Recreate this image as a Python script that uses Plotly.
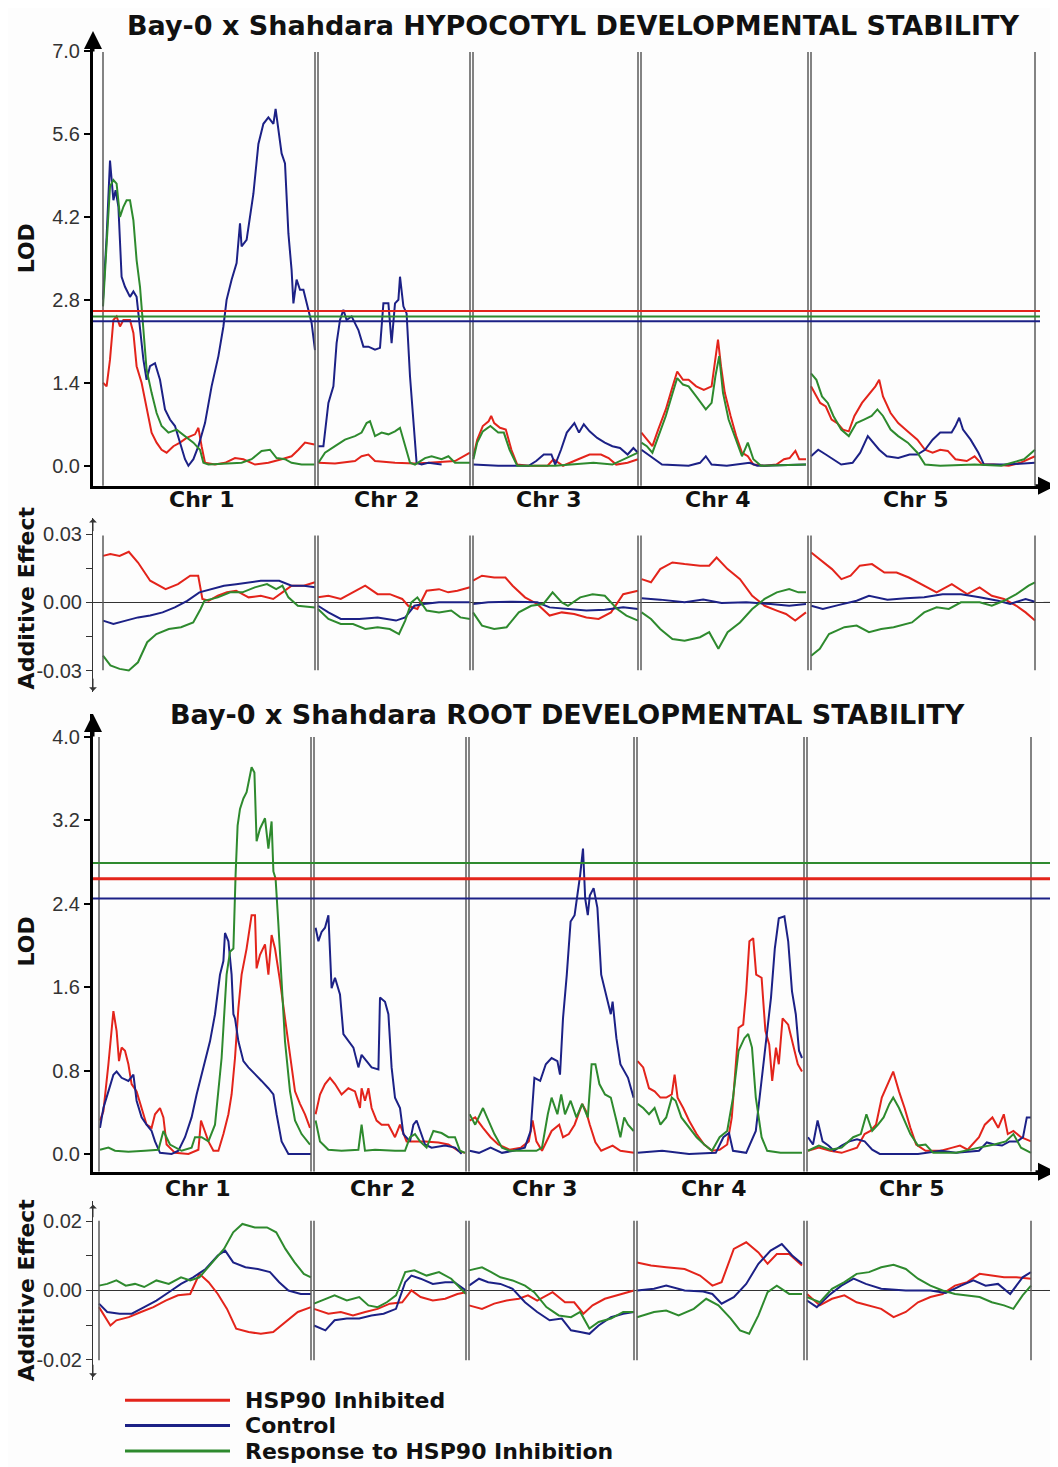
import plotly.graph_objects as go

# ---------------------------------------------------------------- data
CHR_NAMES = ["Chr 1", "Chr 2", "Chr 3", "Chr 4", "Chr 5"]
CHR_LEN_CM = [106.0, 76.0, 82.5, 83.5, 112.0]
CHR_GAP_CM = 1.5
SERIES_NAMES = ["HSP90 Inhibited", "Control", "Response to HSP90 Inhibition"]
SERIES_COLORS = ["#e3241b", "#1c2186", "#2e8a2e"]

HYP_TITLE = "Bay-0 x Shahdara HYPOCOTYL DEVELOPMENTAL STABILITY"
ROOT_TITLE = "Bay-0 x Shahdara ROOT DEVELOPMENTAL STABILITY"

HYP_LOD_TICKS = [0.0, 1.4, 2.8, 4.2, 5.6, 7.0]
ROOT_LOD_TICKS = [0.0, 0.8, 1.6, 2.4, 3.2, 4.0]
HYP_ADD_TICKS = [-0.03, -0.015, 0.0, 0.015, 0.03]
HYP_ADD_TICKTEXT = ["-0.03", "", "0.00", "", "0.03"]
ROOT_ADD_TICKS = [-0.02, -0.01, 0.0, 0.01, 0.02]
ROOT_ADD_TICKTEXT = ["-0.02", "", "0.00", "", "0.02"]

# significance thresholds (inhibited, control, response)
HYP_THRESH = [2.61, 2.44, 2.52]
ROOT_THRESH = [2.64, 2.45, 2.79]

# curves: one list per chromosome of [genome position (cM, cumulative), value]
HYP_LOD_INHIB = [
    [[0,1.40],[1.8,1.34],[3.5,1.79],[5.2,2.46],[6.8,2.52],[8.5,2.35],[10.2,2.46],[13.5,2.46],[15.2,2.24],[16.8,1.68],[19.3,1.40],[21.8,1.00],[24.3,0.56],[26.8,0.39],[29.3,0.27],[31.8,0.22],[35.2,0.33],[38.5,0.39],[41.8,0.47],[46,0.53],[47.7,0.64],[49.3,0.33],[51,0.05],[56,0.02],[61,0.05],[66,0.13],[70.2,0.11],[76,0.02],[82.7,0.05],[89.3,0.11],[94.3,0.16],[97.7,0.27],[101,0.39],[105.7,0.36]],
    [[107.7,0.05],[116,0.04],[126,0.08],[129.3,0.16],[132.7,0.19],[136,0.08],[146,0.05],[156,0.04],[162.7,0.05],[176,0.08],[183.5,0.22]],
    [[185.2,0.16],[187.1,0.44],[189.9,0.67],[192.8,0.75],[194.1,0.84],[195.6,0.72],[198.5,0.64],[201.4,0.61],[204.2,0.27],[207.1,0.02],[212.8,0.0],[222.3,0.0],[225.2,0.11],[230.0,0.0],[237.6,0.11],[243.3,0.19],[249.0,0.19],[252.8,0.13],[256.6,0.02],[262.3,0.05],[267.5,0.11]],
    [[269.2,0.56],[271.9,0.44],[274.7,0.33],[277.6,0.61],[281.4,0.95],[284.3,1.28],[287.1,1.59],[290.0,1.45],[292.8,1.45],[296.6,1.34],[300.4,1.28],[304.3,1.34],[306.2,1.85],[307.5,2.13],[309.0,1.68],[310.9,1.23],[313.8,0.84],[316.6,0.5],[319.5,0.22],[322.4,0.16],[325.2,0.02],[330.9,0.0],[336.7,0.02],[340.5,0.11],[343.3,0.13],[346.2,0.25],[348.1,0.11],[351.5,0.11]],
    [[354.0,1.34],[355.7,1.23],[358.6,1.06],[361.4,1.0],[364.3,0.78],[367.1,0.72],[370.0,0.61],[372.9,0.58],[375.7,0.84],[379.5,1.06],[383.3,1.23],[386.2,1.34],[388.1,1.45],[390.0,1.17],[393.8,0.89],[397.6,0.72],[402.4,0.58],[407.2,0.44],[411.0,0.27],[414.8,0.22],[418.6,0.27],[422.4,0.25],[426.2,0.11],[431.9,0.08],[435.8,0.16],[439.6,0.02],[445.3,0.02],[452.9,0.0],[458.6,0.05],[462.4,0.11],[466.0,0.16]],
]
HYP_LOD_CONTROL = [
    [[0,2.8],[1.8,3.86],[3.5,5.15],[5.2,4.48],[6.3,4.65],[7.7,4.37],[9.3,3.19],[11,3.02],[13.5,2.85],[15.2,2.94],[16.8,2.85],[18.5,2.35],[20.2,1.79],[21.8,1.45],[23.5,1.68],[26,1.73],[28.5,1.45],[31,0.95],[33.5,0.78],[36,0.67],[38.5,0.39],[41,0.11],[42.7,0.0],[45.2,0.11],[47.7,0.33],[51,0.72],[54.3,1.34],[57.7,1.85],[60.2,2.35],[61.8,2.8],[64.3,3.14],[66.8,3.42],[68.5,4.09],[69.3,3.7],[71.8,3.81],[73.5,4.2],[75.2,4.59],[77.7,5.43],[80.2,5.77],[82.7,5.88],[85.2,5.77],[86.3,6.02],[87.7,5.66],[89.3,5.27],[91,5.1],[92.7,3.92],[94.3,3.3],[95.2,2.74],[96.8,3.14],[98.5,2.97],[100.2,2.97],[102.7,2.63],[104.3,2.41],[106,1.95]],
    [[107.5,0.33],[110.2,0.33],[112.7,1.06],[115.2,1.34],[116.8,2.07],[118.5,2.46],[120.2,2.63],[121.8,2.46],[124.3,2.52],[127.7,2.29],[130.2,2.01],[132.7,2.01],[136,1.96],[138.5,1.99],[140.2,2.74],[142.7,2.74],[144.3,2.07],[146,2.74],[147.7,2.8],[148.5,3.19],[150.2,2.69],[151.8,2.57],[153.5,1.51],[155.2,0.67],[156.8,0.05],[159.3,0.02],[162.7,0.05],[169.3,0.02]],
    [[185.2,0.02],[197.6,0.0],[212.8,0.0],[216.6,0.08],[220.4,0.19],[224.2,0.19],[226.1,0.02],[229.0,0.27],[231.9,0.56],[235.7,0.72],[238.0,0.56],[240.4,0.70],[243.3,0.58],[247.1,0.47],[250.9,0.39],[254.7,0.33],[258.5,0.30],[262.3,0.19],[265.2,0.30],[267.5,0.22]],
    [[269.2,0.27],[273.8,0.16],[279.5,0.02],[292.8,0.0],[298.5,0.05],[301.4,0.16],[304.3,0.02],[311.9,0.0],[323.3,0.05],[327.1,0.0],[351.5,0.02]],
    [[354.0,0.16],[357.6,0.27],[361.4,0.19],[365.2,0.11],[369.1,0.02],[374.8,0.05],[378.6,0.22],[382.4,0.50],[385.2,0.39],[388.1,0.27],[391.9,0.16],[397.6,0.13],[403.3,0.19],[407.2,0.19],[411.0,0.27],[414.8,0.44],[418.6,0.56],[424.3,0.56],[426.2,0.67],[428.1,0.81],[430.0,0.61],[433.8,0.44],[437.7,0.22],[440.5,0.02],[451.0,0.02],[466.0,0.05]],
]
HYP_LOD_RESPONSE = [
    [[0,2.69],[1.8,3.75],[3.5,4.71],[5.2,4.82],[6.8,4.76],[8.5,4.20],[10.2,4.37],[11.8,4.48],[13.5,4.48],[15.2,4.14],[16.8,3.47],[18.5,3.02],[20.2,2.24],[21.8,1.62],[24.3,1.23],[26.8,0.89],[29.3,0.67],[32.7,0.56],[36.8,0.61],[41,0.50],[45.2,0.39],[48.5,0.27],[50.2,0.05],[52.7,0.02],[62.7,0.04],[69.3,0.05],[74.3,0.11],[79.3,0.25],[83.5,0.27],[86.8,0.13],[91,0.11],[94.3,0.05],[99.3,0.02],[105.7,0.02]],
    [[107.7,0.05],[111,0.22],[116,0.33],[121,0.44],[126,0.50],[129.3,0.56],[131.8,0.72],[133.5,0.75],[136,0.50],[139.3,0.56],[142.7,0.53],[146,0.58],[148.5,0.64],[151,0.33],[153.5,0.05],[156,0.02],[161,0.13],[164.3,0.16],[169.3,0.11],[172.7,0.16],[176,0.05],[183.5,0.05]],
    [[185.2,0.11],[187.1,0.39],[189.9,0.58],[193.7,0.67],[197.6,0.56],[200.4,0.56],[203.3,0.27],[207.1,0.0],[226.1,0.0],[235.7,0.02],[245.2,0.05],[254.7,0.02],[260.4,0.11],[264.2,0.16],[267.5,0.22]],
    [[269.2,0.39],[271.9,0.33],[274.7,0.22],[277.6,0.5],[281.4,0.84],[284.3,1.17],[287.1,1.48],[290.0,1.37],[292.8,1.34],[296.6,1.17],[301.4,0.95],[304.3,1.06],[306.2,1.51],[308.1,1.85],[310.0,1.23],[312.8,0.78],[316.6,0.44],[319.5,0.16],[322.4,0.39],[325.2,0.11],[329.0,0.0],[351.5,0.02]],
    [[354.0,1.56],[356.7,1.45],[359.5,1.17],[362.4,1.06],[365.2,0.84],[369.1,0.61],[372.9,0.5],[376.7,0.72],[380.5,0.78],[384.3,0.84],[387.2,0.95],[390.0,0.84],[393.8,0.61],[397.6,0.5],[402.4,0.39],[407.2,0.22],[411.0,0.02],[418.6,0.0],[435.8,0.02],[449.1,0.0],[460.5,0.11],[466.0,0.27]],
]

# additive effects, in thousandths
HYP_ADD_INHIB_E3 = [
    [[0,20.4],[3.7,21.2],[8.3,20.4],[12.9,22.2],[17.5,17.5],[23.6,9.5],[31.3,5.8],[37.5,8.0],[43.6,11.7],[47.6,11.7],[49.7,1.5],[52.8,0.7],[57.4,2.9],[62.0,4.4],[66.6,5.1],[72.8,2.2],[78.9,2.9],[85.1,1.5],[89.7,4.4],[94.3,7.3],[100.4,7.3],[106,8.8]],
    [[107.5,2.2],[112.7,2.9],[118.9,1.5],[125.0,4.4],[131.1,7.3],[137.3,3.6],[143.4,3.6],[149.6,1.5],[152.6,-1.5],[157.2,-2.9],[161.8,5.1],[168.0,5.8],[172.6,4.4],[177.2,5.1],[183.5,6.6]],
    [[185,9.5],[189.5,11.7],[195.6,10.9],[201.2,10.9],[204.8,7.3],[211.0,2.2],[217.1,-0.7],[223.3,-5.8],[229.4,-4.4],[235.6,-5.1],[241.7,-6.6],[247.8,-7.3],[254.0,-4.4],[260.1,3.6],[267.5,5.1]],
    [[269.3,10.2],[274.0,8.8],[278.6,14.6],[284.7,17.5],[290.8,16.8],[298.5,16.1],[303.1,16.1],[306.8,19.7],[312.3,14.6],[318.5,10.2],[324.6,2.9],[330.8,-1.5],[336.9,-3.6],[341.5,-5.1],[346.1,-8.0],[351.5,-4.4]],
    [[354.1,21.9],[358.4,19.0],[364.5,14.6],[369.2,10.2],[373.8,11.7],[378.4,16.1],[384.5,16.8],[390.7,13.1],[396.8,13.1],[402.9,10.9],[410.6,7.3],[416.8,4.4],[424.4,8.0],[432.1,3.6],[438.3,6.6],[444.4,2.9],[450.5,1.5],[456.7,-1.5],[461.3,-4.4],[466,-8.0]],
]
HYP_ADD_CONTROL_E3 = [
    [[0,-8.0],[5.2,-9.5],[11.4,-8.0],[17.5,-6.6],[23.6,-5.8],[29.8,-4.4],[35.9,-2.2],[42.1,0.7],[48.2,4.4],[54.4,5.8],[60.5,7.3],[66.6,8.0],[72.8,8.8],[78.9,9.5],[88.1,9.5],[94.3,7.3],[100.4,7.3],[106,6.6]],
    [[107.5,-1.5],[112.7,-4.4],[118.9,-7.3],[128.1,-7.3],[137.3,-6.6],[146.5,-8.0],[151.1,-6.6],[155.7,-1.5],[160.3,-0.7],[168.0,0.0],[177.2,0.0],[183.5,0.0]],
    [[185,-0.7],[192.6,0.0],[204.8,0.3],[217.1,0.0],[223.3,-2.2],[232.5,-2.9],[241.7,-3.6],[250.9,-3.2],[260.1,-2.2],[267.5,-2.9]],
    [[269.3,1.8],[278.6,1.2],[290.8,0.0],[300.1,1.2],[309.3,-0.3],[321.6,0.0],[333.8,-0.7],[343.1,-1.5],[351.5,-0.7]],
    [[354.1,-1.5],[359.9,-2.9],[367.6,-1.2],[376.8,0.7],[383.0,2.9],[392.2,1.2],[401.4,1.8],[410.6,2.2],[419.8,3.6],[429.0,3.6],[438.3,2.2],[447.5,0.7],[453.6,-0.7],[461.3,1.5],[466,0.3]],
]
HYP_ADD_RESPONSE_E3 = [
    [[0,-23.4],[3.7,-27.7],[8.3,-29.2],[12.9,-29.9],[17.5,-26.3],[22.1,-17.5],[26.7,-13.9],[32.9,-11.7],[39.0,-10.9],[45.1,-8.8],[48.8,-2.9],[50.7,0.7],[57.4,2.2],[63.6,4.4],[69.7,4.4],[75.9,6.6],[82.0,8.0],[86.6,5.8],[89.7,7.3],[92.7,2.2],[97.4,-1.5],[106,-2.2]],
    [[107.5,-2.9],[112.7,-7.3],[118.9,-9.5],[125.0,-9.5],[131.1,-11.7],[137.3,-10.9],[143.4,-11.7],[148.0,-13.9],[151.1,-8.0],[154.2,0.0],[157.2,2.2],[161.8,-3.6],[168.0,-4.4],[174.1,-3.6],[178.7,-6.6],[183.5,-7.3]],
    [[185,-4.4],[189.5,-10.2],[195.6,-11.7],[201.8,-10.9],[207.9,-4.4],[214.1,-1.5],[220.2,-0.7],[224.8,4.4],[229.4,0.0],[232.5,-1.5],[238.6,2.2],[244.8,3.6],[250.9,2.9],[257.1,-2.9],[261.7,-5.8],[267.5,-8.0]],
    [[269.3,-4.4],[274.0,-7.3],[278.6,-11.7],[284.7,-16.1],[290.8,-16.8],[298.5,-15.3],[303.1,-13.1],[307.7,-20.4],[312.3,-13.1],[318.5,-8.8],[324.6,-2.9],[330.8,1.5],[336.9,4.4],[343.1,5.8],[347.7,4.4],[351.5,4.4]],
    [[354.1,-23.4],[358.4,-20.4],[363.0,-13.9],[370.7,-10.9],[376.8,-10.2],[383.0,-13.1],[389.1,-11.7],[395.3,-10.9],[404.5,-8.8],[410.6,-4.4],[416.8,-2.2],[422.9,-2.9],[429.0,0.0],[438.3,0.0],[444.4,-1.5],[450.5,0.7],[456.7,3.6],[462.8,7.3],[466,8.8]],
]

ROOT_LOD_INHIB = [
    [[0.5,0.32],[2.2,0.41],[4.7,0.86],[6.3,1.18],[7.2,1.37],[8.8,1.18],[10,0.89],[11.3,1.02],[13,0.99],[14.7,0.86],[16.3,0.67],[18.8,0.6],[21.3,0.44],[23.8,0.28],[26.3,0.25],[28,0.38],[30.5,0.44],[32.2,0.35],[33.8,0.09],[38,0.01],[44.7,0.0],[49.7,0.04],[51,0.32],[53,0.22],[54.7,0.12],[57.2,0.03],[59.7,0.03],[62.2,0.19],[64.7,0.38],[66.3,0.57],[68,0.92],[69.7,1.4],[71.3,1.72],[73.8,1.97],[76.3,2.29],[78,2.29],[78.8,1.78],[80.5,1.91],[83,2.01],[84.7,1.72],[86.3,2.1],[88,1.97],[90.5,1.66],[93,1.3],[95.5,0.95],[98,0.6],[100.5,0.48],[103,0.38],[105.5,0.25]],
    [[108.3,0.38],[110.5,0.57],[113,0.67],[115.5,0.73],[118,0.67],[121.3,0.57],[124.7,0.63],[128,0.6],[130.5,0.44],[131.3,0.63],[133,0.51],[134.7,0.63],[136.3,0.44],[138.8,0.32],[141.3,0.28],[144.7,0.28],[148,0.16],[150.5,0.28],[153.8,0.12],[158,0.12],[163,0.12],[169.7,0.11],[174.7,0.09],[179.7,0.03],[183,0.01]],
    [[185.3,0.32],[188.1,0.35],[192,0.25],[195.8,0.16],[199.6,0.09],[205.3,0.04],[211,0.06],[214.9,0.12],[216.8,0.32],[218.7,0.12],[221.5,0.03],[226.3,0.22],[230.1,0.28],[232,0.16],[234.9,0.19],[237.8,0.28],[241.6,0.48],[243.5,0.41],[245.4,0.28],[248.2,0.11],[251.1,0.03],[256.8,0.08],[260.7,0.03],[267.5,0.01]],
    [[269.3,0.89],[272.1,0.83],[275,0.63],[277.8,0.6],[280.7,0.54],[283.6,0.54],[286.4,0.57],[287.8,0.76],[289.3,0.54],[292.1,0.44],[295,0.32],[298.8,0.19],[302.6,0.09],[306.5,0.03],[310.3,0.04],[314.1,0.09],[316.4,0.35],[318.3,0.86],[319.8,1.21],[322.1,1.24],[323.6,1.56],[325.2,2.04],[327.1,2.07],[328.6,1.72],[331.3,1.69],[333.2,1.18],[335.1,1.05],[336.6,0.7],[338.5,1.02],[339.9,0.86],[341.8,1.3],[344.6,1.24],[347.5,1.02],[349.4,0.86],[351.5,0.79]],
    [[354.5,0.03],[359.9,0.06],[365.6,0.03],[371.3,0.01],[379,0.06],[382.8,0.19],[385.7,0.22],[388.5,0.28],[391.4,0.54],[394.2,0.67],[397.1,0.79],[400,0.6],[402.8,0.44],[405.7,0.25],[408.6,0.09],[413.3,0.03],[421,0.03],[426.7,0.06],[430.5,0.08],[434.3,0.04],[440,0.16],[442.9,0.28],[446.7,0.35],[449.6,0.25],[452.4,0.38],[454.4,0.19],[457.2,0.22],[461,0.16],[466,0.12]],
]
ROOT_LOD_CONTROL = [
    [[0.5,0.25],[2.2,0.44],[4.7,0.6],[7.2,0.76],[8.8,0.79],[11.3,0.73],[14.7,0.7],[17.2,0.76],[18.8,0.51],[21.3,0.35],[23.8,0.28],[26.3,0.22],[28,0.12],[30.5,0.01],[36.3,0.0],[39.7,0.03],[43,0.16],[46.3,0.35],[48.8,0.57],[50.5,0.7],[53,0.89],[55.5,1.08],[58,1.34],[60.5,1.72],[62.2,1.85],[63,2.12],[64.7,2.04],[66.3,1.72],[67.2,1.34],[68,1.3],[69.7,1.08],[72.2,0.89],[74.7,0.83],[78,0.76],[81.3,0.7],[84.7,0.63],[87.2,0.57],[88.8,0.38],[91.3,0.12],[94.7,0.0],[106,0.0]],
    [[108.3,2.17],[109.7,2.04],[111.3,2.13],[113,2.17],[114.7,2.29],[116.3,1.59],[118,1.69],[120.5,1.53],[122.2,1.15],[124.7,1.08],[127.2,1.02],[129.7,0.83],[131.3,0.95],[133.8,0.89],[136.3,0.83],[139.7,0.81],[140.5,1.5],[143,1.46],[144.7,1.34],[146.3,0.83],[148,0.54],[150.5,0.44],[152.2,0.19],[155.5,0.12],[157.2,0.28],[158.8,0.32],[160.5,0.22],[163,0.09],[166.3,0.06],[173,0.08],[178,0.06],[181.3,0.0]],
    [[185.3,0.03],[190,0.01],[195.8,0.06],[201.5,0.01],[207.2,0.03],[212.9,0.06],[215.8,0.22],[217.7,0.73],[220.6,0.7],[223.4,0.86],[226.3,0.92],[229.2,0.89],[230.5,0.76],[232,1.3],[233.9,1.72],[235.8,2.23],[237.8,2.29],[239.7,2.55],[240.6,2.68],[242,2.93],[243.1,2.45],[244.4,2.29],[245.4,2.48],[247.3,2.55],[249.2,2.36],[251.1,1.72],[254,1.5],[255.9,1.34],[256.8,1.46],[258.7,1.11],[260.7,0.86],[262.6,0.79],[264.5,0.73],[267.3,0.54]],
    [[269.3,0.01],[281.6,0.03],[295,0.0],[308.4,0.01],[312.2,0.16],[315,0.2],[317,0.03],[323.6,0.01],[328.4,0.22],[330.3,0.54],[332.2,0.92],[334.1,1.18],[336,1.5],[337.9,1.97],[339.9,2.26],[342.7,2.28],[344.6,2.04],[346.5,1.56],[348.4,1.34],[350,0.99],[351.5,0.92]],
    [[354.5,0.16],[357,0.09],[359.3,0.32],[361.8,0.12],[364.7,0.08],[367.5,0.03],[371.3,0.08],[375.2,0.12],[379,0.14],[382.8,0.12],[386.6,0.04],[390.4,0.0],[409.5,0.0],[421,0.03],[428.6,0.01],[440,0.03],[443.9,0.11],[447.7,0.09],[451.5,0.08],[455.3,0.12],[459.1,0.12],[462,0.16],[463.9,0.35],[466,0.35]],
]
ROOT_LOD_RESPONSE = [
    [[0.5,0.04],[4.7,0.06],[8,0.03],[14.7,0.02],[23,0.03],[29.7,0.04],[32.2,0.22],[35.5,0.09],[41.3,0.03],[46.3,0.06],[48,0.16],[51.3,0.16],[54.7,0.12],[58,0.28],[61.3,0.92],[63.8,1.72],[65.5,1.94],[67.2,1.97],[68.3,2.68],[69.3,3.15],[70.5,3.31],[72.2,3.41],[73.8,3.47],[75,3.6],[76.3,3.71],[77.7,3.66],[78.8,3.0],[80.5,3.12],[83,3.22],[84.7,2.93],[86.3,3.19],[87.2,2.71],[88.3,2.64],[89.7,2.2],[91.3,1.66],[93,1.08],[95.5,0.6],[98,0.32],[101.3,0.19],[105.5,0.09]],
    [[108.3,0.32],[110.5,0.12],[114.7,0.04],[121.3,0.03],[129.7,0.04],[131.3,0.28],[133,0.03],[138,0.04],[148,0.03],[153,0.03],[155.5,0.16],[158,0.19],[160.5,0.12],[163.8,0.06],[167.2,0.22],[171.3,0.2],[174.7,0.16],[178,0.16],[180.5,0.03],[183,0.01]],
    [[185.3,0.38],[188.1,0.28],[192,0.44],[194.8,0.32],[197.7,0.19],[201.5,0.06],[205.3,0.03],[218.7,0.03],[221.5,0.06],[224.4,0.38],[226.3,0.54],[229.2,0.38],[231.1,0.57],[233,0.38],[235.8,0.51],[238.7,0.35],[241.6,0.48],[244.4,0.35],[246.3,0.86],[248.2,0.86],[250.2,0.67],[253,0.57],[255.9,0.54],[258.7,0.32],[260.7,0.16],[262.6,0.35],[264.5,0.28],[267.3,0.22]],
    [[269.3,0.48],[272.1,0.44],[275,0.38],[277.8,0.44],[280.7,0.28],[283.6,0.35],[286.4,0.54],[288.3,0.51],[291.2,0.35],[295,0.25],[298.8,0.16],[302.6,0.09],[306.5,0.03],[310.3,0.16],[314.1,0.22],[317,0.54],[319.8,0.99],[322.7,1.11],[324.6,1.15],[326.5,1.02],[328.4,0.54],[331.3,0.16],[334.1,0.03],[340.8,0.01],[351.5,0.01]],
    [[354.5,0.03],[359.9,0.08],[365.6,0.04],[371.3,0.06],[377.1,0.16],[380.9,0.19],[383.7,0.38],[386.6,0.22],[389.5,0.28],[392.3,0.35],[395.2,0.48],[397.1,0.54],[400,0.44],[402.8,0.32],[405.7,0.19],[409.5,0.08],[413.3,0.09],[417.1,0.01],[428.6,0.01],[440,0.06],[447.7,0.09],[453.4,0.12],[457.2,0.19],[461,0.06],[466,0.01]],
]

ROOT_ADD_INHIB_E3 = [
    [[0,-4.8],[5.7,-10.1],[8.7,-8.6],[14.9,-7.7],[21.0,-6.2],[27.2,-4.8],[33.3,-2.9],[39.5,-1.4],[45.6,-1.0],[50.2,4.8],[54.8,2.4],[59.4,-1.0],[64.0,-5.3],[68.6,-11.0],[74.8,-12.0],[80.9,-12.5],[87.1,-12.0],[93.2,-9.1],[99.4,-6.2],[106,-4.8]],
    [[107.5,-5.3],[114.7,-6.7],[120.9,-6.2],[127.0,-7.2],[133.1,-6.2],[139.3,-5.3],[145.4,-3.8],[151.6,-3.4],[156.2,0.0],[160.8,-1.9],[166.9,-2.9],[173.1,-2.4],[179.2,-1.0],[183.5,-0.5]],
    [[185,-4.3],[191.5,-5.3],[197.6,-3.8],[203.8,-2.9],[209.9,-2.4],[214.5,-1.4],[219.1,-2.9],[226.8,-0.5],[233.0,-3.4],[237.6,-3.4],[242.2,-6.7],[246.8,-4.3],[252.9,-2.4],[259.1,-1.4],[267.5,0.0]],
    [[269,8.1],[276.0,7.2],[283.6,6.7],[292.8,6.2],[300.5,4.3],[306.7,1.4],[311.3,2.4],[317.4,12.0],[323.6,13.9],[329.7,11.0],[334.3,7.7],[338.9,10.5],[345.1,10.5],[351.5,7.2]],
    [[354,-1.0],[360.4,-4.3],[366.5,-2.4],[372.7,-1.4],[378.8,-3.4],[385.0,-4.3],[391.1,-5.3],[397.3,-7.7],[403.4,-6.2],[409.5,-3.4],[415.7,-1.9],[421.8,-1.0],[428.0,1.4],[434.1,2.4],[440.3,4.8],[446.4,4.3],[452.5,3.8],[458.7,3.8],[466,3.4]],
]
ROOT_ADD_CONTROL_E3 = [
    [[0,-3.8],[4.1,-6.2],[10.3,-6.7],[16.4,-6.7],[22.6,-4.8],[28.7,-2.9],[34.9,-0.5],[41.0,1.9],[47.1,3.8],[53.3,6.2],[59.4,10.1],[63.1,11.5],[67.1,8.1],[73.2,6.7],[79.4,6.2],[85.5,5.3],[90.1,2.4],[94.7,0.0],[100.9,-1.0],[106,-1.0]],
    [[107.5,-10.1],[113.2,-11.5],[117.8,-8.6],[123.9,-8.1],[130.1,-8.1],[136.2,-7.2],[142.3,-6.7],[148.5,-5.3],[153.1,2.4],[156.2,4.3],[160.8,3.4],[166.9,1.9],[173.1,2.4],[177.7,2.4],[183.5,0.0]],
    [[185,1.4],[190.0,3.4],[194.6,2.4],[200.7,1.9],[206.8,0.5],[213.0,-3.4],[219.1,-6.2],[225.3,-8.6],[231.4,-8.1],[236.0,-11.5],[240.6,-12.0],[245.2,-12.5],[249.8,-10.1],[256.0,-7.7],[262.1,-6.7],[267.5,-6.2]],
    [[269,0.0],[277.5,0.5],[283.6,1.4],[292.8,0.0],[302.1,-0.3],[306.7,-1.0],[311.3,-3.8],[317.4,-1.9],[323.6,1.9],[329.7,7.7],[335.8,11.5],[341.4,13.4],[346.6,10.1],[351.5,7.7]],
    [[354,-2.9],[358.9,-4.8],[365.0,-1.4],[371.2,1.4],[377.3,3.4],[383.4,1.9],[391.1,0.5],[403.4,0.0],[415.7,0.0],[423.4,-0.7],[431.0,1.4],[437.2,2.9],[443.3,1.4],[449.5,1.9],[455.6,-1.0],[461.8,3.8],[466,5.3]],
]
ROOT_ADD_RESPONSE_E3 = [
    [[0,1.4],[4.1,1.9],[8.7,2.9],[13.4,1.4],[18.0,1.9],[22.6,1.0],[28.7,2.9],[34.9,1.9],[41.0,3.8],[45.6,2.9],[50.2,3.8],[56.4,8.1],[62.5,12.0],[67.1,16.8],[71.7,19.2],[77.9,18.2],[84.0,18.2],[88.6,16.8],[93.2,12.0],[97.8,8.1],[102.4,4.8],[106,3.8]],
    [[107.5,-3.8],[113.2,-2.4],[117.8,-1.4],[123.9,-2.9],[130.1,-1.9],[134.7,-4.3],[139.3,-4.8],[143.9,-3.4],[148.5,-1.4],[153.1,5.3],[157.7,5.8],[163.8,4.3],[170.0,5.3],[176.1,3.4],[183.5,-1.0]],
    [[185,5.8],[191.5,6.7],[196.1,5.3],[200.7,3.8],[206.8,2.9],[213.0,1.4],[217.6,-0.5],[223.7,-4.8],[229.9,-7.2],[236.0,-7.7],[240.6,-6.2],[245.2,-11.0],[249.8,-9.1],[256.0,-8.1],[262.1,-6.2],[267.5,-6.2]],
    [[269,-7.7],[277.5,-6.2],[283.6,-5.8],[289.8,-7.2],[297.4,-5.3],[303.6,-2.4],[309.7,-4.3],[315.9,-8.1],[320.5,-11.5],[325.1,-12.5],[329.7,-7.2],[334.3,-0.5],[338.9,1.4],[345.1,-1.0],[351.5,-1.0]],
    [[354,-1.9],[360.4,-3.4],[366.5,0.5],[372.7,2.4],[378.8,4.8],[385.0,5.3],[391.1,6.7],[397.3,7.4],[403.4,6.2],[409.5,3.4],[415.7,1.4],[421.8,0.0],[428.0,-1.0],[434.1,-1.4],[440.3,-1.9],[446.4,-3.4],[452.5,-4.3],[457.2,-5.3],[461.8,-1.4],[466,1.4]],
]

# ---------------------------------------------------------------- layout helpers
PAGE_MARGIN = 8            # default body margin of the html page
W, H = 1058 - PAGE_MARGIN, 1467 - PAGE_MARGIN
def PX(p):
    return (p - PAGE_MARGIN) / W
def PY(p):
    return 1 - (p - PAGE_MARGIN) / H

BOLD = "DejaVu Sans"
REG = "Liberation Sans, Arial, sans-serif"
def bold_font(size):
    return dict(family=BOLD, size=size, color="#111", weight="bold")

chr_start = []
acc = 0.0
for L in CHR_LEN_CM:
    chr_start.append(acc)
    acc += L + CHR_GAP_CM
chr_end = [s + L for s, L in zip(chr_start, CHR_LEN_CM)]


def flatten(segments, scale=1.0):
    xs, ys = [], []
    for seg in segments:
        for p, v in seg:
            xs.append(p)
            ys.append(v * scale)
        xs.append(None)
        ys.append(None)
    return xs, ys


fig = go.Figure()

panels = [
    ("x", "y", [HYP_LOD_INHIB, HYP_LOD_CONTROL, HYP_LOD_RESPONSE], 1.0),
    ("x2", "y2", [HYP_ADD_INHIB_E3, HYP_ADD_CONTROL_E3, HYP_ADD_RESPONSE_E3], 1e-3),
    ("x3", "y3", [ROOT_LOD_INHIB, ROOT_LOD_CONTROL, ROOT_LOD_RESPONSE], 1.0),
    ("x4", "y4", [ROOT_ADD_INHIB_E3, ROOT_ADD_CONTROL_E3, ROOT_ADD_RESPONSE_E3], 1e-3),
]
for xa, ya, series, scale in panels:
    for name, color, segs in zip(SERIES_NAMES, SERIES_COLORS, series):
        xs, ys = flatten(segs, scale)
        fig.add_trace(go.Scatter(x=xs, y=ys, mode="lines", name=name,
                                 line=dict(color=color, width=2),
                                 xaxis=xa, yaxis=ya, showlegend=False,
                                 connectgaps=False, hoverinfo="skip"))

shapes = []
# chromosome boundary lines
bounds = [("x", "y", -0.34, 6.98), ("x2", "y2", -0.0298, 0.0293),
          ("x3", "y3", -0.172, 4.0), ("x4", "y4", -0.0201, 0.0201)]
for xa, ya, y0, y1 in bounds:
    for s, e in zip(chr_start, chr_end):
        for xv in (s, e):
            shapes.append(dict(type="line", xref=xa, yref=ya, x0=xv, x1=xv,
                               y0=y0, y1=y1, line=dict(color="#5a5a5a", width=1.5)))

# threshold lines
for val, color in zip(HYP_THRESH, SERIES_COLORS):
    shapes.append(dict(type="line", xref="x", yref="y", x0=-5, x1=468.5,
                       y0=val, y1=val, line=dict(color=color, width=2)))
for val, color, w in zip(ROOT_THRESH, SERIES_COLORS, [3, 2, 2]):
    shapes.append(dict(type="line", xref="x3", yref="y3", x0=-3, x1=479.5,
                       y0=val, y1=val, line=dict(color=color, width=w)))

# legend lines
for i, color in enumerate(SERIES_COLORS):
    yy = 1400 + 25.5 * i
    shapes.append(dict(type="line", xref="paper", yref="paper",
                       x0=PX(125), x1=PX(230), y0=PY(yy), y1=PY(yy),
                       line=dict(color=color, width=3)))

annotations = []
# titles
annotations.append(dict(text=HYP_TITLE, x=PX(573), y=PY(22), xref="paper", yref="paper",
                        showarrow=False, font=bold_font(27),
                        xanchor="center", yanchor="middle"))
annotations.append(dict(text=ROOT_TITLE, x=PX(567), y=PY(712), xref="paper", yref="paper",
                        showarrow=False, font=bold_font(27),
                        xanchor="center", yanchor="middle"))
# axis titles
for txt, yy in [("LOD", 245), ("Additive Effect", 596), ("LOD", 940), ("Additive Effect", 1290)]:
    annotations.append(dict(text=txt, x=PX(26), y=PY(yy), xref="paper", yref="paper",
                            showarrow=False, textangle=-90, font=bold_font(22),
                            xanchor="center", yanchor="middle"))
# chromosome labels
for xa, yy in [("x", 497), ("x3", 1188)]:
    for name, s, e in zip(CHR_NAMES, chr_start, chr_end):
        annotations.append(dict(text=name, x=(s + e) / 2, y=PY(yy), xref=xa, yref="paper",
                                showarrow=False, xshift=-7, font=bold_font(22),
                                xanchor="center", yanchor="middle"))
# legend text
for i, name in enumerate(SERIES_NAMES):
    yy = 1400 + 25.5 * i
    annotations.append(dict(text=name, x=PX(243), y=PY(yy), xref="paper", yref="paper",
                            showarrow=False, font=bold_font(22),
                            xanchor="left", yanchor="middle"))

# axis arrows
def arrow(xp, yp, ax, ay, width, size, head=2, color="#000"):
    return dict(text="", x=PX(xp), y=PY(yp), xref="paper", yref="paper",
                ax=ax, ay=ay, showarrow=True, arrowhead=head, arrowsize=size,
                arrowwidth=width, arrowcolor=color)

annotations += [
    arrow(93, 27, 0, 22, 3, 1.2),
    arrow(1056, 483, -22, 0, 3, 1.2),
    arrow(93, 712, 0, 24, 3, 1.2),
    arrow(1056, 1171, -22, 0, 3, 1.2),
    arrow(93, 516, 0, 14, 1, 1.3, 1, "#333"),
    arrow(93, 689, 0, -14, 1, 1.3, 1, "#333"),
    arrow(1056, 600, -14, 0, 1, 1.3, 1, "#333"),
    arrow(93, 1204, 0, 14, 1, 1.3, 1, "#333"),
    arrow(93, 1377, 0, -14, 1, 1.3, 1, "#333"),
    arrow(1056, 1290, -14, 0, 1, 1.3, 1, "#333"),
]

xdom = [PX(93), 1.0]
tickfont = dict(family=REG, size=20, color="#333")
xcommon = dict(domain=xdom, showgrid=False, zeroline=False, showticklabels=False, ticks="")

layout = dict(
    width=W, height=H, margin=dict(l=0, r=0, t=0, b=0),
    paper_bgcolor="#fdfdfd", plot_bgcolor="rgba(0,0,0,0)",
    showlegend=False,
    xaxis=dict(range=[-5, 477.5], anchor="y", showline=True, linewidth=3, linecolor="#000", **xcommon),
    xaxis2=dict(range=[-5, 477.5], anchor="y2", showline=False, **xcommon),
    xaxis3=dict(range=[-3, 479.5], anchor="y3", showline=True, linewidth=3, linecolor="#000", **xcommon),
    xaxis4=dict(range=[-3, 479.5], anchor="y4", showline=False, **xcommon),
    yaxis=dict(domain=[PY(483), PY(40)], range=[-0.3365, 7.118], anchor="x",
               tickvals=HYP_LOD_TICKS, ticktext=[f"{v:.1f}" for v in HYP_LOD_TICKS],
               showline=True, linewidth=3, linecolor="#000", ticks="outside",
               ticklen=6, tickwidth=2, tickcolor="#000", tickfont=tickfont,
               showgrid=False, zeroline=False),
    yaxis2=dict(domain=[PY(690), PY(515)], range=[-0.0394, 0.0372], anchor="x2",
                tickvals=HYP_ADD_TICKS, ticktext=HYP_ADD_TICKTEXT,
                showline=True, linewidth=1, linecolor="#333", ticks="outside",
                ticklen=6, tickwidth=1, tickcolor="#333", tickfont=tickfont,
                showgrid=False, zeroline=True, zerolinecolor="#333", zerolinewidth=1),
    yaxis3=dict(domain=[PY(1171), PY(712)], range=[-0.172, 4.22], anchor="x3",
                tickvals=ROOT_LOD_TICKS, ticktext=[f"{v:.1f}" for v in ROOT_LOD_TICKS],
                showline=True, linewidth=3, linecolor="#000", ticks="outside",
                ticklen=6, tickwidth=2, tickcolor="#000", tickfont=tickfont,
                showgrid=False, zeroline=False),
    yaxis4=dict(domain=[PY(1380), PY(1200)], range=[-0.0259, 0.0259], anchor="x4",
                tickvals=ROOT_ADD_TICKS, ticktext=ROOT_ADD_TICKTEXT,
                showline=True, linewidth=1, linecolor="#333", ticks="outside",
                ticklen=6, tickwidth=1, tickcolor="#333", tickfont=tickfont,
                showgrid=False, zeroline=True, zerolinecolor="#333", zerolinewidth=1),
    shapes=shapes,
    annotations=annotations,
)
fig.update_layout(**layout)
fig.write_html("out.html")
